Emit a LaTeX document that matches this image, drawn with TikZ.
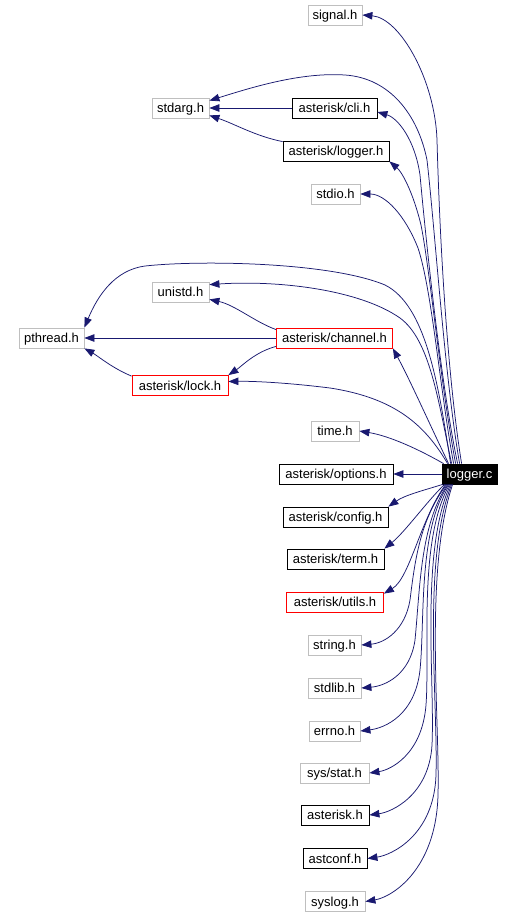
\documentclass[tikz,border=0pt]{standalone}
\usepackage{fontspec}
\setmainfont{Liberation Sans}
\usetikzlibrary{arrows.meta,calc}
\definecolor{edgeblue}{HTML}{191970}
\definecolor{boxgray}{HTML}{BFBFBF}
\begin{document}
\begin{tikzpicture}[x=1bp,y=-1bp,
  box/.style={draw,line width=0.8bp,minimum height=20bp,inner sep=0pt,text height=9.2bp,text depth=0bp,font=\fontsize{13bp}{15bp}\selectfont},
  ext/.style={box,draw=boxgray},
  doc/.style={box,draw=black},
  trunc/.style={box,draw=red},
  cur/.style={box,draw=black,fill=black,text=white},
  edge/.style={draw=edgeblue,line width=0.75bp,-{Triangle[length=10bp,width=7.5bp]}}
]
\useasboundingbox (0,0) rectangle (529,916);
\fill[white] (0,0) rectangle (529,916);

\node[ext, minimum width=54bp] (sig) at (335,15) {signal.h};
\node[ext, minimum width=57bp] (sa) at (180.5,108) {stdarg.h};
\node[doc, minimum width=85bp] (cli) at (334.5,108) {asterisk/cli.h};
\node[doc, minimum width=106bp] (ll) at (336,151) {asterisk/logger.h};
\node[ext, minimum width=49bp] (sio) at (335.5,194) {stdio.h};
\node[ext, minimum width=57bp] (un) at (180.5,292) {unistd.h};
\node[ext, minimum width=65bp] (pt) at (51.5,338) {pthread.h};
\node[trunc, minimum width=116bp] (ch) at (334.5,338) {asterisk/channel.h};
\node[trunc, minimum width=96bp] (lk) at (180,385.5) {asterisk/lock.h};
\node[ext, minimum width=48bp] (tm) at (335,431) {time.h};
\node[doc, minimum width=114bp] (op) at (336,474) {asterisk/options.h};
\node[cur, minimum width=55bp] (lc) at (469.5,474) {logger.c};
\node[doc, minimum width=105bp] (cf) at (335.5,517) {asterisk/config.h};
\node[doc, minimum width=97bp] (te) at (335.5,559) {asterisk/term.h};
\node[trunc, minimum width=97bp] (ut) at (335,602) {asterisk/utils.h};
\node[ext, minimum width=53bp] (st) at (334.5,645) {string.h};
\node[ext, minimum width=53bp] (sl) at (334.5,688) {stdlib.h};
\node[ext, minimum width=51bp] (er) at (334.5,731) {errno.h};
\node[ext, minimum width=69bp] (ss) at (334.5,773) {sys/stat.h};
\node[doc, minimum width=68bp] (ah) at (335,815) {asterisk.h};
\node[doc, minimum width=64bp] (ac) at (335,858.5) {astconf.h};
\node[ext, minimum width=60bp] (sy) at (335,901.5) {syslog.h};

% logger.c upward
\draw[edge] ($(lc.north west)+(20,0)$) .. controls (448,380) and (440,250) .. (437,140) .. controls (435,80) and (400,18) .. (sig.east);
\draw[edge] ($(lc.north west)+(18,0)$) .. controls (445,380) and (435,230) .. (427,160) .. controls (418,115) and (390,78) .. (345,75) .. controls (300,72) and (250,88) .. ($(sa.north east)+(0,3)$);
\draw[edge] ($(lc.north west)+(16,0)$) .. controls (440,380) and (425,230) .. (420,175) .. controls (415,140) and (398,118) .. ($(cli.east)+(0,4)$);
\draw[edge] ($(lc.north west)+(14,0)$) .. controls (440,380) and (430,270) .. (421,225) .. controls (413,192) and (402,172) .. (ll.south east);
\draw[edge] ($(lc.north west)+(12,0)$) .. controls (440,390) and (432,290) .. (418,248) .. controls (405,215) and (385,194) .. (sio.east);
\draw[edge] ($(lc.north west)+(10,0)$) .. controls (438,400) and (430,340) .. (400,318) .. controls (360,290) and (280,280) .. ($(un.north east)+(0,3)$);
\draw[edge] ($(lc.north west)+(9,0)$) .. controls (438,380) and (425,305) .. (385,285) .. controls (330,262) and (200,260) .. (145,266) .. controls (115,270) and (98,295) .. (pt.north east);
\draw[edge] ($(lc.north west)+(7,0)$) .. controls (430,425) and (410,380) .. (ch.south east);
\draw[edge] ($(lc.north west)+(6,0)$) .. controls (425,425) and (395,398) .. (330,388) .. controls (290,383) and (255,381) .. ($(lk.east)+(0,-4)$);
\draw[edge] ($(lc.north west)+(2,0)$) .. controls (420,450) and (390,436) .. (tm.east);
\draw[edge] (lc.west) -- (op.east);

% logger.c downward
\draw[edge] ($(lc.south west)+(1,0)$) .. controls (425,490) and (405,495) .. (cf.north east);
\draw[edge] ($(lc.south west)+(3,0)$) .. controls (428,500) and (405,532) .. (te.north east);
\draw[edge] ($(lc.south west)+(4,0)$) .. controls (420,520) and (410,578) .. ($(ut.north east)+(0,2)$);
\draw[edge] ($(lc.south west)+(5,0)$) .. controls (420,520) and (415,560) .. (410,600) .. controls (405,630) and (385,643) .. (st.east);
\draw[edge] ($(lc.south west)+(6,0)$) .. controls (420,525) and (420,590) .. (415,640) .. controls (410,675) and (385,686) .. (sl.east);
\draw[edge] ($(lc.south west)+(7,0)$) .. controls (418,530) and (425,620) .. (420,670) .. controls (415,715) and (385,728) .. (er.east);
\draw[edge] ($(lc.south west)+(8,0)$) .. controls (418,540) and (430,650) .. (426,705) .. controls (422,755) and (390,770) .. (ss.east);
\draw[edge] ($(lc.south west)+(9,0)$) .. controls (420,550) and (435,680) .. (432,745) .. controls (429,795) and (392,812) .. (ah.east);
\draw[edge] ($(lc.south west)+(10,0)$) .. controls (422,560) and (438,700) .. (436,775) .. controls (434,835) and (392,855) .. (ac.east);
\draw[edge] ($(lc.south west)+(11,0)$) .. controls (424,570) and (440,720) .. (438,795) .. controls (436,870) and (392,897) .. (sy.east);

% inner includes
\draw[edge] (cli.west) -- (sa.east);
\draw[edge] ($(ll.north west)+(0,1)$) .. controls (255,136) and (235,124) .. ($(sa.south east)+(0,-3)$);
\draw[edge] ($(ch.north west)+(0,2)$) .. controls (255,322) and (235,305) .. ($(un.south east)+(0,-3)$);
\draw[edge] (ch.west) -- (pt.east);
\draw[edge] ($(ch.south west)+(0,-2)$) .. controls (255,352) and (242,366) .. (lk.north east);
\draw[edge] ($(lk.north west)+(0,1)$) .. controls (112,368) and (98,356) .. (pt.south east);
\end{tikzpicture}
\end{document}
